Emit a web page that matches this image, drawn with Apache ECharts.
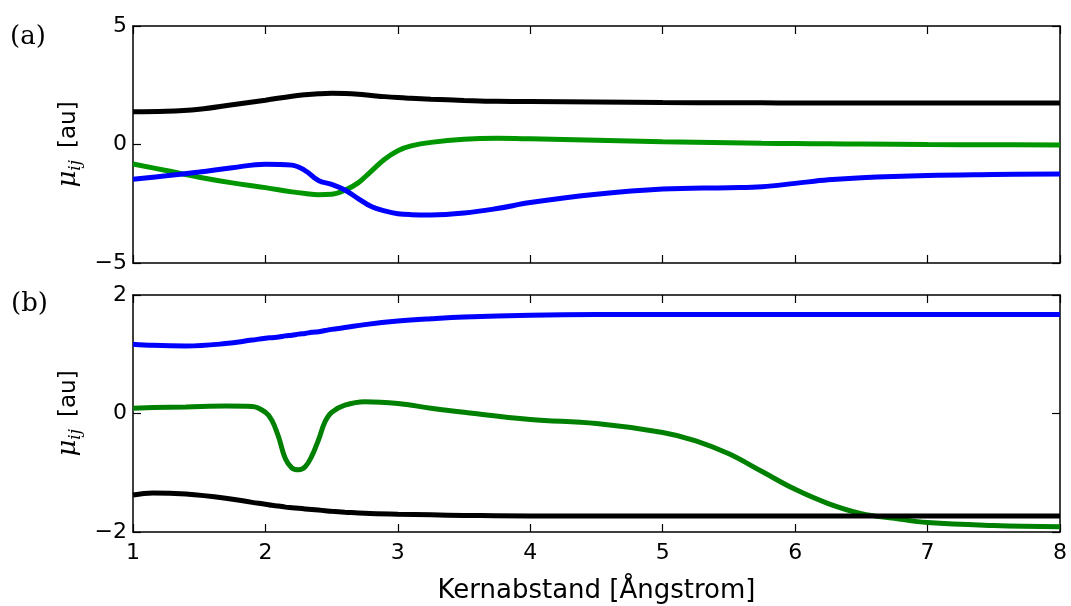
<!DOCTYPE html>
<html>
<head>
<meta charset="utf-8">
<script src="https://cdn.jsdelivr.net/npm/echarts@6/dist/echarts.min.js"></script>
<style>
html,body{margin:0;padding:0;background:#fff;}
#chart{width:1071px;height:606px;}
</style>
</head>
<body>
<div id="chart"></div>
<script>
// ---- data (a) ----
const xTop = [1, 1.25, 1.5, 1.75, 2.0, 2.2, 2.3, 2.4, 2.5, 2.6, 2.7, 2.8, 2.9, 3.0, 3.1, 3.25, 3.5, 3.75, 4.0, 4.5, 5.0, 5.5, 5.75, 6.0, 6.25, 6.5, 7.0, 7.5, 8.0];
const topBlack = [1.38, 1.40, 1.49, 1.68, 1.87, 2.04, 2.10, 2.14, 2.16, 2.15, 2.12, 2.07, 2.02, 1.98, 1.95, 1.91, 1.86, 1.82, 1.81, 1.79, 1.77, 1.76, 1.76, 1.75, 1.75, 1.75, 1.75, 1.75, 1.75];
const topGreen = [-0.82, -1.10, -1.38, -1.62, -1.82, -2.00, -2.07, -2.12, -2.10, -1.93, -1.62, -1.12, -0.62, -0.26, -0.06, 0.09, 0.22, 0.26, 0.24, 0.18, 0.12, 0.07, 0.05, 0.04, 0.03, 0.02, 0.00, -0.01, -0.02];
const topBlue = [-1.47, -1.32, -1.16, -0.98, -0.83, -0.87, -1.10, -1.52, -1.68, -1.92, -2.28, -2.62, -2.80, -2.92, -2.96, -2.97, -2.89, -2.70, -2.45, -2.10, -1.88, -1.82, -1.78, -1.64, -1.49, -1.40, -1.31, -1.27, -1.24];

// ---- data (b) ----
const xBot = [1, 1.15, 1.4, 1.7, 1.9, 2.0, 2.05, 2.1, 2.15, 2.2, 2.25, 2.3, 2.35, 2.4, 2.45, 2.5, 2.6, 2.75, 3.0, 3.25, 3.5, 4.0, 4.5, 5.0, 5.25, 5.5, 5.75, 6.0, 6.25, 6.5, 6.75, 7.0, 7.5, 8.0];
const botBlue = [1.17, 1.15, 1.14, 1.18, 1.24, 1.27, 1.28, 1.29, 1.31, 1.32, 1.34, 1.35, 1.37, 1.38, 1.40, 1.42, 1.45, 1.50, 1.56, 1.60, 1.63, 1.66, 1.67, 1.67, 1.67, 1.67, 1.67, 1.67, 1.67, 1.67, 1.67, 1.67, 1.67, 1.67];
const botGreen = [0.09, 0.10, 0.11, 0.125, 0.12, 0.02, -0.12, -0.40, -0.76, -0.92, -0.95, -0.90, -0.72, -0.45, -0.14, 0.02, 0.14, 0.20, 0.17, 0.09, 0.02, -0.10, -0.17, -0.32, -0.46, -0.68, -0.98, -1.28, -1.52, -1.69, -1.77, -1.84, -1.89, -1.91];
const botBlack = [-1.375, -1.34, -1.36, -1.43, -1.50, -1.53, -1.55, -1.56, -1.58, -1.59, -1.60, -1.61, -1.62, -1.63, -1.64, -1.65, -1.665, -1.685, -1.70, -1.71, -1.72, -1.73, -1.73, -1.73, -1.73, -1.73, -1.73, -1.73, -1.73, -1.73, -1.73, -1.73, -1.73, -1.73];

// ---- ticks / labels ----
const xMin = 1, xMax = 8, xStep = 1;
const yTopMin = -5, yTopMax = 5, yTopStep = 5;
const yBotMin = -2, yBotMax = 2, yBotStep = 2;
const panelLabels = ['(a)', '(b)'];
const xName = 'Kernabstand [Ångstrom]';

function pairs(xs, ys) { return xs.map((x, i) => [x, ys[i]]); }
const minusFmt = v => String(v).replace('-', '\u2212');

const axisLine = { show: true, onZero: false, lineStyle: { color: '#000', width: 1.5 } };
const axisTick = { show: true, inside: true, length: 8, lineStyle: { color: '#000', width: 1.2 } };
const tickFont = { color: '#000', fontFamily: 'DejaVu Sans', fontSize: 22 };

function xAx(grid, pos, labels) {
  const a = {
    type: 'value', gridIndex: grid, position: pos, min: xMin, max: xMax, interval: xStep,
    axisLine, axisTick, splitLine: { show: false },
    axisLabel: labels ? Object.assign({ show: true, margin: 10 }, tickFont) : { show: false }
  };
  if (labels) {
    a.name = xName; a.nameLocation = 'middle'; a.nameGap = 46;
    a.nameTextStyle = { color: '#000', fontFamily: 'DejaVu Sans', fontSize: 26 };
  }
  return a;
}
const yName = '{mu|\u03bc}{sub|ij}{sp| }{au|[au]}';
const yNameStyle = {
  color: '#000',
  rich: {
    mu: { fontFamily: 'DejaVu Serif', fontStyle: 'italic', fontSize: 26, color: '#000', lineHeight: 30 },
    sub: { fontFamily: 'DejaVu Serif', fontStyle: 'italic', fontSize: 17, color: '#000', lineHeight: 14, verticalAlign: 'bottom', padding: [12, 0, 0, 0] },
    sp: { fontSize: 22, lineHeight: 30, width: 12 },
    au: { fontFamily: 'DejaVu Sans', fontSize: 23, color: '#000', lineHeight: 30 }
  }
};
function yAx(grid, pos, min, max, step, labels) {
  const a = {
    type: 'value', gridIndex: grid, position: pos, min, max, interval: step,
    axisLine, axisTick, splitLine: { show: false },
    axisLabel: labels ? Object.assign({ show: true, margin: 6, formatter: minusFmt }, tickFont) : { show: false }
  };
  if (labels) {
    a.name = yName; a.nameLocation = 'middle'; a.nameGap = 46; a.nameRotate = 90;
    a.nameTextStyle = yNameStyle;
  }
  return a;
}
function line(xi, yi, xs, ys, color, w) {
  return {
    type: 'line', xAxisIndex: xi, yAxisIndex: yi, data: pairs(xs, ys),
    showSymbol: false, smooth: 0.4,
    lineStyle: { color, width: w }, itemStyle: { color }, z: 3
  };
}

const chart = echarts.init(document.getElementById('chart'), null, { renderer: 'canvas' });
chart.setOption({
  animation: false,
  backgroundColor: '#fff',
  grid: [
    { left: 133, right: 11, top: 26, height: 237 },
    { left: 133, right: 11, top: 295, height: 237 }
  ],
  xAxis: [xAx(0, 'bottom', false), xAx(0, 'top', false), xAx(1, 'bottom', true), xAx(1, 'top', false)],
  yAxis: [
    yAx(0, 'left', yTopMin, yTopMax, yTopStep, true), yAx(0, 'right', yTopMin, yTopMax, yTopStep, false),
    yAx(1, 'left', yBotMin, yBotMax, yBotStep, true), yAx(1, 'right', yBotMin, yBotMax, yBotStep, false)
  ],
  graphic: [
    { type: 'text', left: 10, top: 24, style: { text: panelLabels[0], font: '26px "DejaVu Serif"', fill: '#000' } },
    { type: 'text', left: 11, top: 291, style: { text: panelLabels[1], font: '26px "DejaVu Serif"', fill: '#000' } }
  ],
  series: [
    line(0, 0, xTop, topBlack, '#000000', 5),
    line(0, 0, xTop, topGreen, '#009600', 5),
    line(0, 0, xTop, topBlue, '#0000FF', 5),
    line(2, 2, xBot, botBlue, '#0000FF', 5),
    line(2, 2, xBot, botGreen, '#008000', 5),
    line(2, 2, xBot, botBlack, '#000000', 5)
  ]
});
</script>
</body>
</html>
